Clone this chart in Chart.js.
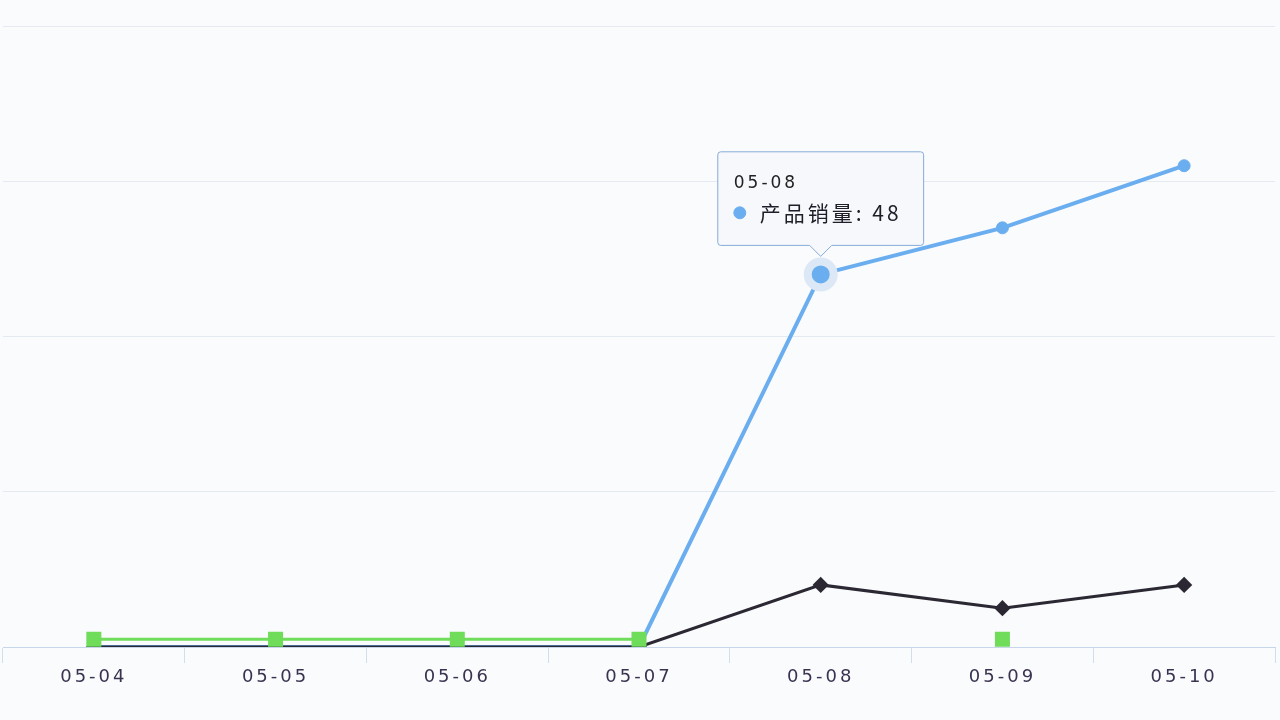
<!DOCTYPE html>
<html>
<head>
<meta charset="utf-8">
<script src="https://cdn.jsdelivr.net/npm/chart.js@4/dist/chart.umd.min.js"></script>
<style>
  html, body { margin: 0; padding: 0; background: #fafbfd; }
  #wrap { width: 1280px; height: 720px; position: relative; }
  canvas { display: block; }
</style>
</head>
<body>
<div id="wrap"><canvas id="c" width="1280" height="720"></canvas></div>
<script>
const categories = ['05-04', '05-05', '05-06', '05-07', '05-08', '05-09', '05-10'];
const salesValues = [0, 0, 0, 0, 48, 54, 62];
const blackValues = [0, 0, 0, 0, 8, 5, 8];
const greenValues = [1, 1, 1, 1, null, 1, null];
const yTicks = [0, 20, 40, 60, 80];

const BLUE = '#6aaef0';
const DARK = '#2b2833';
const GREEN = '#6fdc5a';

const spacingPlugin = {
  id: 'spacing',
  beforeDraw(chart) { chart.ctx.letterSpacing = '3px'; },
  beforeTooltipDraw(chart) { chart.ctx.letterSpacing = '3px'; }
};

const ctx = document.getElementById('c').getContext('2d');
const chart = new Chart(ctx, {
  type: 'line',
  plugins: [spacingPlugin],
  data: {
    labels: categories,
    datasets: [
      {
        label: '产品销量',
        data: salesValues,
        borderColor: BLUE,
        backgroundColor: BLUE,
        pointBackgroundColor: BLUE,
        pointBorderColor: BLUE,
        borderWidth: 4,
        pointRadius: 6,
        pointBorderWidth: 1,
        pointHoverRadius: 13,
        pointHoverBorderWidth: 8,
        pointHoverBackgroundColor: BLUE,
        pointHoverBorderColor: '#dde8f6',
        tension: 0,
        order: 3
      },
      {
        label: '订单量',
        data: blackValues,
        borderColor: DARK,
        backgroundColor: DARK,
        pointBackgroundColor: DARK,
        pointStyle: 'rectRot',
        borderWidth: 3,
        pointRadius: 6,
        tension: 0,
        order: 2
      },
      {
        label: '退货量',
        data: greenValues,
        borderColor: GREEN,
        backgroundColor: GREEN,
        pointBackgroundColor: GREEN,
        pointBorderColor: GREEN,
        pointStyle: 'rect',
        borderWidth: 3,
        pointRadius: 8.5,
        spanGaps: false,
        tension: 0,
        order: 1
      }
    ]
  },
  options: {
    responsive: false,
    animation: false,
    events: [],
    layout: { autoPadding: false, padding: { left: 3, right: 5, top: 26, bottom: 0 } },
    plugins: {
      legend: { display: false },
      title: { display: false },
      tooltip: {
        enabled: true,
        backgroundColor: 'rgba(246,248,251,0.97)',
        borderColor: '#86abd8',
        borderWidth: 1,
        titleColor: '#222',
        bodyColor: '#1e1e28',
        titleFont: { family: 'DejaVu Sans', size: 17, weight: 'normal' },
        bodyFont: { family: 'Noto Sans CJK SC', size: 21, weight: 'normal' },
        titleMarginBottom: 6,
        padding: { left: 16, right: 22, top: 22, bottom: 20 },
        cornerRadius: 3,
        caretSize: 11,
        caretPadding: 18,
        xAlign: 'center',
        yAlign: 'bottom',
        displayColors: true,
        usePointStyle: true,
        boxWidth: 12,
        boxHeight: 12,
        boxPadding: 12,
        callbacks: {
          title: (items) => items[0].label,
          label: (c) => c.dataset.label + ': ' + c.parsed.y,
          labelPointStyle: () => ({ pointStyle: 'circle', rotation: 0 }),
          labelColor: () => ({ borderColor: BLUE, backgroundColor: BLUE, borderWidth: 0 })
        }
      }
    },
    scales: {
      x: {
        offset: true,
        grid: {
          offset: true,
          drawOnChartArea: false,
          drawTicks: true,
          tickLength: 16,
          color: '#d3deec',
          lineWidth: 1
        },
        border: { display: true, color: '#c7d6ea', width: 1 },
        ticks: {
          color: '#3a3350',
          font: { family: 'DejaVu Sans', size: 18 },
          padding: 4,
          maxRotation: 0
        },
        afterFit: (s) => { s.height = 73; s.paddingLeft = 0; s.paddingRight = 0; }
      },
      y: {
        min: 0,
        max: 80,
        afterBuildTicks: (s) => { s.ticks = yTicks.map(v => ({ value: v })); },
        ticks: { display: false },
        border: { display: false },
        grid: { color: '#e5eaf2', lineWidth: 1, drawTicks: false },
        afterFit: (s) => { s.width = 0; s.paddingTop = 0; s.paddingBottom = 0; }
      }
    }
  }
});

chart.ctx.letterSpacing = '3px';
const active = [{ datasetIndex: 0, index: 4 }];
chart.setActiveElements(active);
const el = chart.getDatasetMeta(0).data[4];
chart.tooltip.setActiveElements(active, { x: el.x, y: el.y });
chart.update();
</script>
</body>
</html>
